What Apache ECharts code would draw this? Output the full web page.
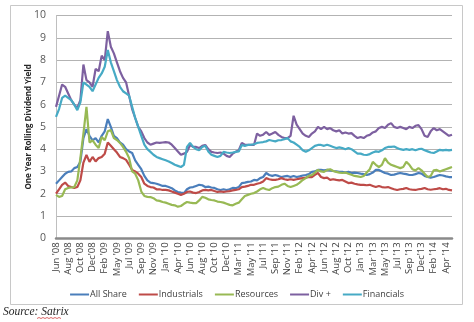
<!DOCTYPE html>
<html>
<head>
<meta charset="utf-8">
<script src="https://cdn.jsdelivr.net/npm/echarts@6/dist/echarts.min.js"></script>
<style>
  html, body { margin: 0; padding: 0; background: #ffffff; }
  #chart { width: 474px; height: 322px; }
</style>
</head>
<body>
<div id="chart"></div>
<script>
// Tick labels along the date axis (one every 4 samples)
const tickLabels = ["Jun '08", "Aug '08", "Oct '08", "Dec'08", "Feb '09", "May '09", "Jul '09", "Sep '09", "Nov '09",
  "Jan '10", "Apr '10", "Jun '10", "Aug '10", "Oct '10", "Dec'10", "Mar '11", "May '11", "Jul '11", "Sep '11",
  "Nov '11", "Feb '12", "Apr '12", "Jun '12", "Aug '12", "Oct '12", "Jan '13", "Mar '13", "May '13", "Jul '13",
  "Sep '13", "Dec'13", "Feb '14", "Apr '14"];
const samplesPerTick = 4;

// One-year rolling dividend yield (%), sampled roughly twice a month
const allShare = [2.45,2.6,2.75,2.9,2.98,3.0,3.15,3.2,3.43,4.5,4.9,4.6,4.4,4.5,4.3,4.6,4.8,5.35,5.0,4.6,
  4.5,4.3,4.2,4.0,3.9,3.83,3.5,3.3,3.1,2.8,2.6,2.5,2.48,2.45,2.4,2.35,2.35,2.3,2.25,2.15,
  2.08,2.05,2.03,2.2,2.28,2.3,2.35,2.4,2.38,2.3,2.32,2.28,2.26,2.2,2.17,2.2,2.17,2.2,2.26,2.25,
  2.3,2.48,2.5,2.53,2.55,2.62,2.6,2.7,2.75,2.93,2.84,2.8,2.84,2.8,2.75,2.78,2.8,2.75,2.8,2.75,
  2.78,2.82,2.84,2.88,2.98,3.0,3.07,3.07,3.05,3.07,3.05,3.02,3.0,2.98,2.98,2.95,2.98,2.93,2.95,2.93,
  2.9,2.88,2.84,2.88,2.95,3.07,3.07,3.0,2.93,2.9,2.84,2.86,2.9,2.93,2.9,2.88,2.84,2.84,2.88,2.93,
  2.9,2.8,2.75,2.72,2.75,2.8,2.84,2.82,2.78,2.75,2.75];

const industrials = [2.0,2.2,2.4,2.5,2.35,2.3,2.26,2.3,2.6,3.4,3.74,3.43,3.65,3.45,3.6,3.65,3.8,4.3,4.15,4.0,
  3.85,3.65,3.6,3.52,3.3,3.07,3.0,2.9,2.75,2.45,2.35,2.3,2.28,2.2,2.2,2.17,2.17,2.15,2.1,2.05,
  2.0,1.95,2.0,2.08,2.1,2.05,2.03,2.08,2.15,2.17,2.15,2.17,2.12,2.08,2.1,2.08,2.1,2.12,2.15,2.17,
  2.2,2.3,2.32,2.35,2.4,2.4,2.45,2.48,2.55,2.7,2.65,2.62,2.62,2.65,2.7,2.65,2.62,2.65,2.62,2.65,
  2.68,2.7,2.72,2.75,2.75,2.85,2.93,2.75,2.7,2.72,2.62,2.65,2.62,2.6,2.62,2.55,2.48,2.5,2.45,2.42,
  2.4,2.4,2.38,2.4,2.35,2.3,2.35,2.3,2.28,2.3,2.25,2.2,2.17,2.2,2.22,2.26,2.2,2.18,2.17,2.2,
  2.22,2.26,2.2,2.18,2.2,2.22,2.25,2.2,2.22,2.17,2.15];

const resources = [1.95,1.86,1.9,2.2,2.26,2.28,2.3,2.6,3.6,4.7,5.9,4.3,4.4,4.2,4.05,4.55,4.4,4.8,4.86,4.5,
  4.41,4.28,4.1,3.88,3.6,3.0,2.9,2.6,2.1,1.9,1.86,1.85,1.8,1.7,1.68,1.63,1.6,1.55,1.5,1.48,
  1.42,1.45,1.55,1.63,1.6,1.58,1.58,1.7,1.86,1.82,1.75,1.72,1.7,1.65,1.63,1.6,1.55,1.5,1.48,1.55,
  1.6,1.75,1.9,1.95,2.0,2.03,2.1,2.2,2.26,2.2,2.17,2.25,2.3,2.32,2.4,2.45,2.35,2.3,2.35,2.4,
  2.5,2.62,2.7,2.8,2.84,2.95,3.07,3.0,2.98,3.07,3.1,3.02,2.98,2.95,2.93,2.95,2.9,2.85,2.8,2.78,
  2.75,2.8,2.95,3.1,3.43,3.3,3.2,3.3,3.6,3.4,3.3,3.25,3.2,3.15,3.2,3.43,3.3,3.1,3.05,3.15,
  3.05,2.9,2.75,2.8,3.05,3.07,3.0,3.05,3.1,3.15,3.2];

const divPlus = [5.9,6.4,6.9,6.8,6.5,6.2,6.0,5.85,6.2,7.8,7.1,7.0,6.8,7.6,7.5,8.2,8.0,9.3,8.6,8.3,
  7.9,7.5,7.2,7.0,6.4,5.8,5.4,5.0,4.8,4.5,4.3,4.2,4.25,4.3,4.28,4.3,4.32,4.3,4.2,4.05,
  3.9,3.75,3.8,3.88,4.19,4.1,4.1,4.05,4.15,4.19,4.0,3.88,3.85,3.83,3.85,3.8,3.7,3.65,3.8,3.88,
  3.95,4.28,4.2,4.19,4.2,4.19,4.7,4.6,4.65,4.77,4.64,4.7,4.77,4.64,4.55,4.5,4.5,4.6,5.5,5.1,
  4.9,4.7,4.6,4.55,4.7,4.8,5.0,4.9,5.0,4.9,4.95,4.85,4.8,4.85,4.7,4.75,4.7,4.72,4.6,4.5,
  4.55,4.5,4.6,4.64,4.75,4.8,4.95,5.0,4.95,5.1,5.17,5.0,4.95,5.0,4.95,4.9,5.0,4.95,5.05,5.08,
  4.9,4.6,4.55,4.8,4.95,4.85,4.9,4.8,4.7,4.6,4.65];

const financials = [5.45,5.8,6.3,6.4,6.3,6.2,6.0,5.75,6.1,7.0,6.9,6.8,6.6,6.9,7.2,7.4,7.7,8.45,7.9,7.5,
  7.1,6.8,6.6,6.5,6.4,5.9,5.4,5.0,4.6,4.2,4.0,3.88,3.75,3.65,3.6,3.55,3.5,3.45,3.38,3.3,
  3.25,3.2,3.3,4.1,4.28,4.1,4.0,3.95,4.1,4.15,3.9,3.75,3.7,3.65,3.7,3.88,3.85,3.83,3.85,3.88,
  3.9,4.19,4.15,4.19,4.2,4.22,4.28,4.3,4.32,4.35,4.41,4.38,4.35,4.4,4.41,4.45,4.5,4.35,4.3,4.2,
  4.1,3.95,3.88,3.95,4.05,4.15,4.19,4.19,4.15,4.2,4.15,4.1,4.05,4.08,4.05,4.0,4.05,4.0,3.9,3.8,
  3.8,3.75,3.74,3.78,3.85,3.9,3.88,3.95,4.05,4.1,4.1,4.12,4.05,4.0,3.97,4.0,3.97,4.0,3.95,4.0,
  4.02,3.95,3.9,3.85,3.83,3.9,3.97,3.95,3.97,3.95,3.97];

const seriesNames = ['All Share', 'Industrials', 'Resources', 'Div +', 'Financials'];
const seriesColors = ['#4a7ebb', '#be4b48', '#98b954', '#7d60a0', '#46aac5'];
const seriesValues = [allShare, industrials, resources, divPlus, financials];

// Category slots: a labelled slot at every tick, blank slots between
const categories = allShare.map((_, i) =>
  i % samplesPerTick === 0 && tickLabels[i / samplesPerTick] !== undefined ? tickLabels[i / samplesPerTick] : '');

const chart = echarts.init(document.getElementById('chart'), null, { renderer: 'canvas' });

chart.setOption({
  animation: false,
  backgroundColor: '#ffffff',
  grid: { left: 56, right: 22, top: 15.5, bottom: 83.7, containLabel: false },
  legend: {
    top: 285,
    left: 'center',
    icon: 'rect',
    itemWidth: 19,
    itemHeight: 2,
    itemGap: 12,
    textStyle: { fontFamily: 'Open Sans', fontSize: 9, color: '#404040', padding: [0, 0, 0, -4] },
    data: seriesNames
  },
  xAxis: {
    type: 'category',
    boundaryGap: false,
    data: categories,
    axisLine: { lineStyle: { color: '#8a8a8a', width: 2.5 } },
    axisTick: { show: false },
    axisLabel: {
      interval: (idx) => idx % samplesPerTick === 0,
      rotate: 90,
      margin: 4,
      fontFamily: "'Liberation Sans Narrow', 'Open Sans'",
      fontSize: 9.5,
      color: '#404040'
    },
    splitLine: { show: false }
  },
  yAxis: {
    type: 'value',
    min: 0,
    max: 10,
    interval: 1,
    name: 'One Year Rolling Dividend Yield',
    nameLocation: 'middle',
    nameRotate: 90,
    nameGap: 27,
    nameMoveOverlap: false,
    nameTextStyle: {
      fontFamily: "'Liberation Sans Narrow', 'Open Sans'",
      fontWeight: 'bold', fontSize: 8, color: '#262626',
      verticalAlign: 'middle'
    },
    axisLine: { show: true, lineStyle: { color: '#bfbfbf', width: 1 } },
    axisTick: { show: false },
    axisLabel: { fontFamily: 'Open Sans', fontSize: 10.5, color: '#595959', margin: 10 },
    splitLine: { lineStyle: { color: '#b3b3b3', width: 1 } }
  },
  series: seriesNames.map((name, k) => ({
    name,
    type: 'line',
    data: seriesValues[k],
    showSymbol: false,
    symbol: 'none',
    smooth: false,
    lineStyle: { color: seriesColors[k], width: 2.2 },
    itemStyle: { color: seriesColors[k] },
    z: 2 + k
  })),
  graphic: [
    {
      type: 'rect',
      shape: { x: 10.5, y: 5.5, width: 452, height: 299 },
      style: { fill: null, stroke: '#c8c8c8', lineWidth: 1 },
      silent: true
    },
    {
      type: 'text',
      left: 3,
      top: 306,
      style: {
        text: '{a|Source: }{b|Satrix}',
        rich: {
          a: { fontFamily: 'Liberation Serif', fontStyle: 'italic', fontSize: 11.5, fill: '#1f1f1f' },
          b: { fontFamily: 'Liberation Serif', fontStyle: 'italic', fontSize: 11.5, fill: '#1f1f1f' }
        }
      }
    },
    {
      type: 'polyline',
      shape: { points: [[37, 318.5], [39, 317.5], [41, 318.5], [43, 317.5], [45, 318.5], [47, 317.5], [49, 318.5], [51, 317.5], [53, 318.5], [55, 317.5], [57, 318.5], [59, 317.5], [61, 318.5]] },
      style: { stroke: '#d04040', lineWidth: 0.8, fill: null },
      silent: true
    }
  ]
});
</script>
</body>
</html>
